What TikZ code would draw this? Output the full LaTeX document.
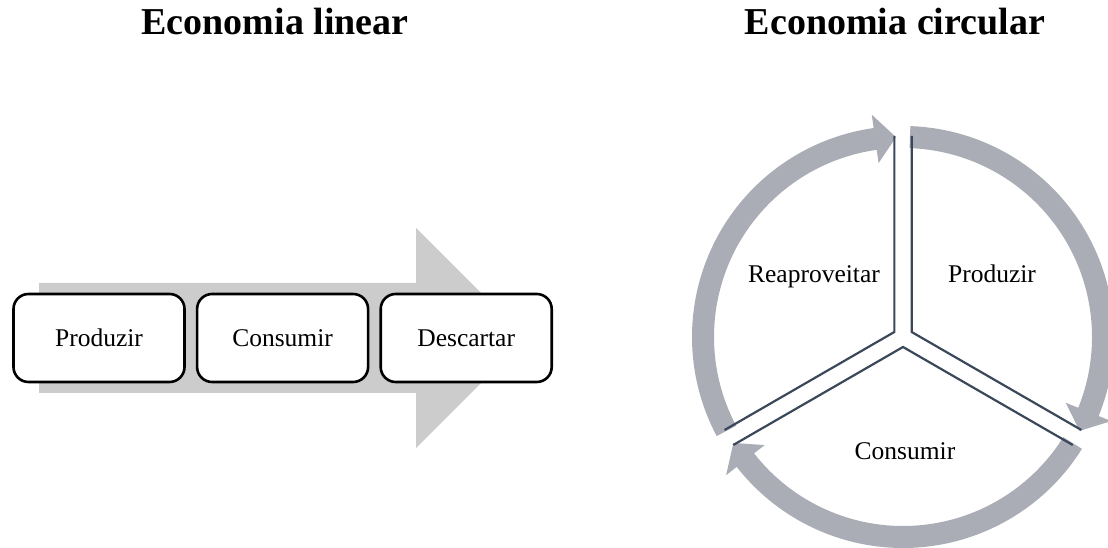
\documentclass[tikz,border=0pt]{standalone}
\usepackage{fontspec}
\setmainfont{Liberation Serif}
\usepackage{tikz}
\usetikzlibrary{positioning, calc}
\definecolor{flowgray}{RGB}{204,204,204}
\definecolor{ringgray}{RGB}{170,173,181}
\definecolor{sepcol}{RGB}{59,72,90}

\begin{document}
\begin{tikzpicture}[
  x=1pt, y=1pt,
  font=\fontsize{25.5}{30}\selectfont,
  ttl/.style={font=\fontsize{38}{44}\selectfont\bfseries, anchor=base},
  box/.style={draw=black, line width=2.6pt, fill=white, rounded corners=15pt,
              minimum width=171pt, minimum height=88pt, align=center},
  lbl/.style={anchor=base, inner sep=0pt},
  sep/.style={draw=sepcol, line width=2.2pt},
  band/.style={fill=ringgray}
]
  \useasboundingbox (0,0) rectangle (1108,548);

  % titles
  \node[ttl] (tlin) at (275,513) {Economia linear};
  \node[ttl] (tcirc) at (895,513) {Economia circular};

  % linear economy: big arrow behind the boxes
  \fill[flowgray] (39,155) -- (39,265) -- (416,265) -- (416,320)
    -- (526,210) -- (416,100) -- (416,155) -- cycle;
  \node[box] (lprod) at (99,210) {Produzir};
  \node[box, right=10pt of lprod] (lcons) {Consumir};
  \node[box, right=10pt of lcons] (ldesc) {Descartar};

  % circular economy
  \coordinate (c) at (903,211);
  \begin{scope}[shift={(c)}]
    \foreach \s/\b/\t in {208/98/92, 88/-22/-28, -32/-142/-148}
      \fill[band] (\s:211) arc[start angle=\s, end angle=\b, radius=211pt]
        -- (\b:224.5) -- (\t:200) -- (\b:175.5) -- (\b:189)
        arc[start angle=\b, end angle=\s, radius=189pt] -- cycle;
    \foreach \m in {30,150,270}
      \draw[sep] ($(\m:10)+(\m+60:196)$) -- (\m:10) -- ($(\m:10)+(\m-60:196)$);
  \end{scope}
  \node[lbl] (creap) at (814,265) {Reaproveitar};
  \node[lbl] (cprod) at (992,265) {Produzir};
  \node[lbl] (ccons) at (905,88) {Consumir};
\end{tikzpicture}
\end{document}
